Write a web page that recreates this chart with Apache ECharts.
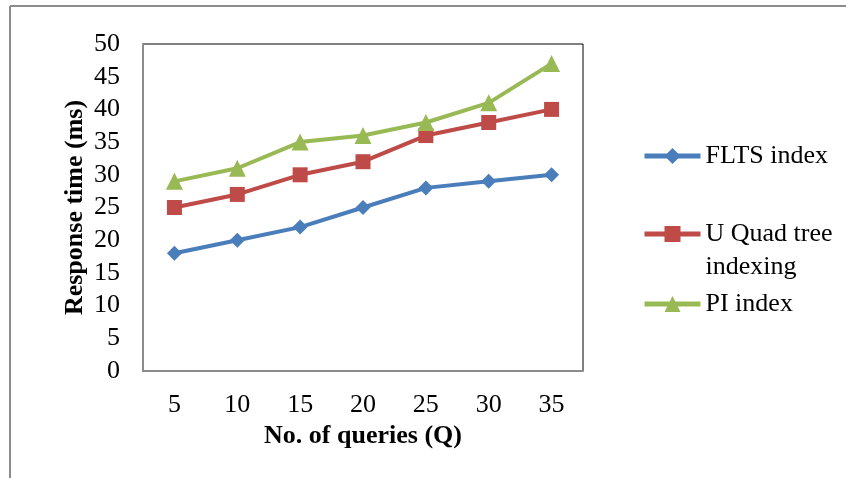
<!DOCTYPE html>
<html><head><meta charset="utf-8">
<script src="https://cdn.jsdelivr.net/npm/echarts@6/dist/echarts.min.js"></script>
<style>html,body{margin:0;padding:0;background:#fff}#c{width:846px;height:478px}</style>
</head><body><div id="c"></div>
<script>
const categories = ['5','10','15','20','25','30','35'];
const fltsIndex = [18,20,22,25,28,29,30];
const uQuadTree = [25,27,30,32,36,38,40];
const piIndex = [29,31,35,36,38,41,47];
const seriesNames = ['FLTS index','U Quad tree indexing','PI index'];
const colors = ['#4a7ebb','#be4b48','#98b954'];
const font = '"Liberation Serif","Times New Roman",serif';

const chart = echarts.init(document.getElementById('c'), null, {renderer:'canvas'});
const legendText = {fontFamily:font,fontSize:26,color:'#000',lineHeight:33};
const legendBase = {
  orient:'vertical', left:642, itemWidth:56, itemHeight:20, itemGap:0, padding:0,
  lineStyle:{width:5},
  textStyle:legendText
};
chart.setOption({
  animation:false,
  backgroundColor:'#fff',
  grid:{left:143,top:44,right:263,bottom:107,show:true,borderColor:'#000',borderWidth:1,backgroundColor:'transparent'},
  graphic:[
    {type:'line',shape:{x1:10,y1:6,x2:846,y2:6},style:{stroke:'#8c8c8c',lineWidth:2}},
    {type:'line',shape:{x1:10,y1:6,x2:10,y2:478},style:{stroke:'#8c8c8c',lineWidth:2}}
  ],
  legend:[
    Object.assign({},legendBase,{top:139.5,data:[seriesNames[0]]}),
    Object.assign({},legendBase,{top:184.5,data:[seriesNames[1]],
      formatter:function(){return ' \nU Quad tree\nindexing';}}),
    Object.assign({},legendBase,{top:287.5,data:[seriesNames[2]]})
  ],
  xAxis:{type:'category',data:categories,boundaryGap:true,
    axisLine:{show:true,lineStyle:{color:'#8c8c8c',width:2}},axisTick:{show:false},
    axisLabel:{fontFamily:font,fontSize:26,color:'#000',margin:21},
    name:'No. of queries (Q)',nameLocation:'middle',nameGap:50,
    nameTextStyle:{fontFamily:font,fontSize:26,fontWeight:'bold',color:'#000'}},
  yAxis:{type:'value',min:0,max:50,interval:5,
    axisLine:{show:true,lineStyle:{color:'#8c8c8c',width:2}},axisTick:{show:false},splitLine:{show:false},
    axisLabel:{fontFamily:font,fontSize:26,color:'#000',margin:23},
    name:'Response time (ms)',nameLocation:'middle',nameGap:55,nameMoveOverlap:false,
    nameTextStyle:{fontFamily:font,fontSize:26,fontWeight:'bold',color:'#000'}},
  series:[
    {name:seriesNames[0],type:'line',data:fltsIndex,symbol:'diamond',symbolSize:15,
      lineStyle:{color:colors[0],width:4},itemStyle:{color:colors[0]}},
    {name:seriesNames[1],type:'line',data:uQuadTree,symbol:'rect',symbolSize:15,
      lineStyle:{color:colors[1],width:4},itemStyle:{color:colors[1]}},
    {name:seriesNames[2],type:'line',data:piIndex,symbol:'triangle',symbolSize:17,
      lineStyle:{color:colors[2],width:4},itemStyle:{color:colors[2]}}
  ]
});
</script></body></html>
